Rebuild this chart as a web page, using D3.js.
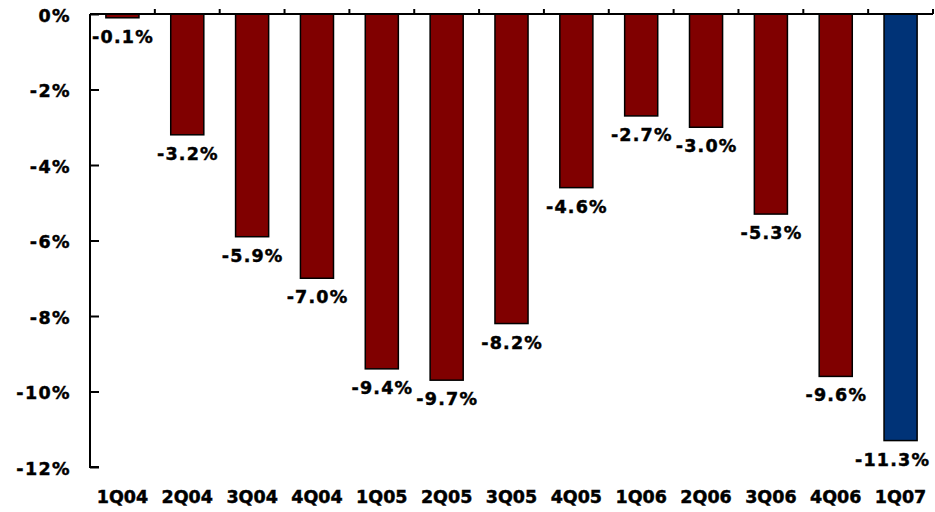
<!DOCTYPE html>
<html>
<head>
<meta charset="utf-8">
<script src="https://cdn.jsdelivr.net/npm/d3@7"></script>
<style>
  html, body { margin: 0; padding: 0; background: #fff; }
  text { font-family: "DejaVu Sans", Verdana, sans-serif; font-weight: 700; fill: #000; stroke: #000; stroke-width: 0.45px; }
</style>
</head>
<body>
<svg id="chart" width="935" height="512"></svg>
<script>
// Quarterly change, percent
const quarters = ["1Q04","2Q04","3Q04","4Q04","1Q05","2Q05","3Q05","4Q05","1Q06","2Q06","3Q06","4Q06","1Q07"];
const values = [-0.1, -3.2, -5.9, -7.0, -9.4, -9.7, -8.2, -4.6, -2.7, -3.0, -5.3, -9.6, -11.3];
const yTicks = [0, -2, -4, -6, -8, -10, -12];

const svg = d3.select("#chart");
const plot = { left: 90, right: 933, top: 14, bottom: 467 };
const fontSize = 17.5;

const x = d3.scaleBand().domain(quarters).range([plot.left, plot.right]).paddingInner(0.49).paddingOuter(0.245);
const xb = d3.scaleBand().domain(quarters).range([plot.left, plot.right]);
const y = d3.scaleLinear().domain([0, -12]).range([plot.top, plot.bottom]);

const barColor = (d, i) => i === quarters.length - 1 ? "#003377" : "#800000";

// bars
svg.append("g").selectAll("rect").data(values).join("rect")
  .attr("x", (d, i) => x(quarters[i]))
  .attr("y", y(0))
  .attr("width", x.bandwidth())
  .attr("height", d => y(d) - y(0))
  .attr("fill", barColor)
  .attr("stroke", "#000")
  .attr("stroke-width", 1.5);

// value labels below each bar
svg.append("g").selectAll("text").data(values).join("text")
  .attr("x", (d, i) => Math.min(xb(quarters[i]) + xb.bandwidth() / 2, 892) + 0.6)
  .attr("y", d => y(d) + 25)
  .attr("text-anchor", "middle")
  .attr("font-size", fontSize)
  .attr("letter-spacing", 1.2)
  .text(d => d.toFixed(1) + "%");

// y axis
const yAxis = d3.axisRight(y).tickValues(yTicks).tickSize(9).tickFormat("");
const gy = svg.append("g").attr("transform", `translate(${plot.left},0)`).call(yAxis);
gy.select(".domain").attr("stroke", "#000").attr("stroke-width", 2).attr("d", `M0,${plot.top}V${plot.bottom}H9`);
gy.selectAll(".tick line").attr("stroke", "#000").attr("stroke-width", 2);

svg.append("g").selectAll("text").data(yTicks).join("text")
  .attr("x", 71)
  .attr("y", d => y(d) + 7.5)
  .attr("text-anchor", "end")
  .attr("font-size", fontSize)
  .attr("letter-spacing", 1.4)
  .text(d => d + "%");

// zero line with category dividers
const xAxis = d3.axisTop(xb).tickSize(0).tickFormat("");
const gx = svg.append("g").attr("transform", `translate(0,${y(0)})`).call(xAxis);
gx.select(".domain").attr("stroke", "#000").attr("stroke-width", 2).attr("d", `M${plot.left},0H${plot.right}`);
svg.append("g").selectAll("line").data(quarters).join("line")
  .attr("x1", d => xb(d) + xb.bandwidth())
  .attr("x2", d => xb(d) + xb.bandwidth())
  .attr("y1", y(0) - 5)
  .attr("y2", y(0))
  .attr("stroke", "#000")
  .attr("stroke-width", 2);

// category labels along the bottom
svg.append("g").selectAll("text").data(quarters).join("text")
  .attr("x", d => xb(d) + xb.bandwidth() / 2)
  .attr("y", 503)
  .attr("text-anchor", "middle")
  .attr("font-size", fontSize)
  .text(d => d);
</script>
</body>
</html>
